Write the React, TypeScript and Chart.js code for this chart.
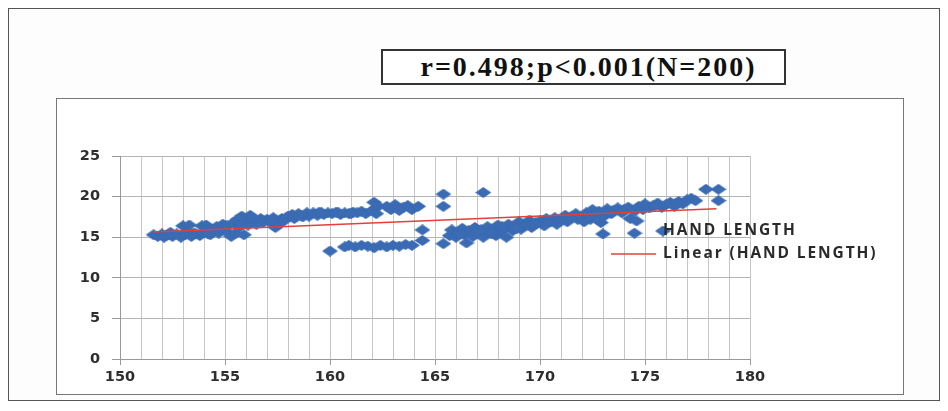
import React, { useEffect, useRef } from "react";
import { Chart, registerables } from "chart.js";

Chart.register(...registerables);

const titleText = "r=0.498;p<0.001(N=200)";
const seriesName = "HAND LENGTH";
const trendName = "Linear (HAND LENGTH)";

const heightCm = [
  151.6, 151.8, 152.0, 152.1, 152.3, 152.4, 152.5, 152.7, 152.9, 153.0, 153.1, 153.2, 153.3, 153.4, 153.6, 153.8, 153.9, 154.0, 154.1, 154.3, 154.4, 154.6, 154.7, 154.9, 155.0,
  155.1, 155.3, 155.4, 155.5, 155.6, 155.7, 155.8, 155.9, 156.0, 156.1, 156.2, 156.4, 156.5, 156.7, 156.8, 157.0, 157.1, 157.3, 157.4, 157.5, 157.7, 157.8, 158.0, 158.2, 158.3, 158.5, 158.7, 158.9, 159.0, 159.2, 159.4, 159.5, 159.7, 159.9, 160.1, 160.3, 160.5, 160.7, 160.9, 161.1, 161.3, 161.5, 161.7, 162.0, 162.1, 162.2, 162.3,
  162.7, 162.9, 163.1, 163.3, 163.5, 163.7, 163.9, 164.2,
  160.0, 160.7, 160.9, 161.2, 161.5, 161.8, 162.1, 162.4, 162.7, 163.0, 163.3, 163.6, 163.9, 164.4, 164.4,
  165.4, 165.4, 167.3, 165.4, 166.5,
  165.7, 165.8, 166.0, 166.1, 166.3, 166.4, 166.6, 166.8, 166.9, 167.0, 167.2, 167.3, 167.5, 167.6, 167.8, 167.9, 168.0, 168.1, 168.3, 168.4, 168.5, 168.7, 168.8, 169.0, 169.1, 169.3, 169.5, 169.6, 169.8, 170.0, 170.2, 170.3, 170.5, 170.7, 170.8, 171.0, 171.2, 171.3, 171.5, 171.7, 171.8,
  172.0, 172.1, 172.2, 172.4, 172.5, 172.6, 172.8, 172.9, 173.0, 173.0, 173.2, 173.4, 173.5, 173.7, 173.9, 174.0, 174.2, 174.3, 174.5, 174.5, 174.6, 174.7, 174.9, 175.0, 175.2, 175.4, 175.6, 175.8, 176.0, 176.2, 176.4, 176.6, 176.8, 177.0, 177.2, 177.4, 177.9, 178.5, 178.5,
  152.2, 153.5, 154.2, 156.3, 157.2, 158.6, 159.6, 160.4, 161.0, 166.2, 167.1, 167.7, 168.2, 168.9, 169.7, 170.4, 171.4, 173.3, 175.5, 176.5,
];

const handLength = [
  15.3, 15.1, 15.4, 15.0, 15.3, 15.6, 15.1, 15.4, 15.0, 16.4, 15.3, 15.7, 16.5, 15.1, 15.4, 15.2, 16.4, 15.6, 16.5, 15.3, 16.0, 16.3, 15.5, 16.6, 15.8,
  16.4, 15.1, 16.8, 15.5, 17.2, 16.3, 17.6, 15.3, 17.0, 16.5, 17.7, 17.1, 16.6, 17.3, 16.8, 17.2, 16.9, 17.4, 16.2, 16.6, 17.3, 17.0, 17.6, 17.8, 17.3, 17.9, 17.5, 18.0, 17.6, 18.0, 17.7, 18.1, 17.8, 18.0, 17.9, 18.1, 17.8, 18.0, 17.9, 18.1, 18.0, 18.2, 17.9, 18.3, 19.3, 17.9, 18.8,
  18.8, 18.4, 19.0, 18.3, 18.7, 18.9, 18.4, 18.8,
  13.3, 13.8, 14.0, 13.8, 14.0, 13.9, 13.7, 14.0, 13.8, 14.0, 13.9, 14.1, 14.0, 15.9, 14.6,
  20.3, 18.8, 20.5, 14.2, 14.3,
  15.2, 15.9, 15.0, 15.6, 16.1, 15.3, 15.8, 15.1, 16.2, 15.5, 15.9, 15.0, 16.3, 15.6, 16.0, 15.2, 16.5, 15.7, 16.1, 15.0, 16.6, 15.8, 16.3, 16.9, 16.0, 16.5, 17.1, 16.2, 16.8, 17.0, 16.4, 17.3, 16.9, 17.4, 16.6, 17.2, 17.7, 16.9, 17.5, 17.9, 17.2,
  17.4, 16.9, 18.0, 17.2, 18.4, 17.6, 18.2, 16.8, 17.5, 15.4, 18.5, 17.9, 18.3, 18.6, 18.0, 18.4, 18.7, 17.3, 15.5, 18.2, 17.0, 18.8, 18.4, 19.1, 18.6, 18.9, 19.2, 18.7, 19.0, 19.3, 18.8, 19.4, 19.1, 19.6, 19.8, 19.5, 20.9, 20.9, 19.5,
  15.2, 15.5, 15.4, 17.4, 17.0, 17.7, 18.0, 18.0, 17.9, 15.4, 15.8, 15.4, 16.3, 16.1, 16.6, 17.1, 17.3, 18.1, 18.9, 19.2,
];

const trendX = [151.6, 178.4];
const trendY = [15.65, 18.5];

const xMin = 150;
const xMax = 180;
const yMin = 0;
const yMax = 25;

const BLUE = "#3a6bb3";
const RED = "#e2403a";

function makeDiamond(w: number, h: number, color: string) {
  const c = document.createElement("canvas");
  c.width = w;
  c.height = h;
  const ctx = c.getContext("2d")!;
  ctx.fillStyle = color;
  ctx.beginPath();
  ctx.moveTo(w / 2, 0);
  ctx.lineTo(w, h / 2);
  ctx.lineTo(w / 2, h);
  ctx.lineTo(0, h / 2);
  ctx.closePath();
  ctx.fill();
  return c;
}

export default function App() {
  const canvasRef = useRef<HTMLCanvasElement | null>(null);

  useEffect(() => {
    const canvas = canvasRef.current;
    if (!canvas) return;

    const marker = makeDiamond(16, 11, BLUE);

    const legendPlugin = {
      id: "customLegend",
      afterDraw(chart: any) {
        const ctx = chart.ctx;
        ctx.save();
        const my = 132;
        ctx.drawImage(marker, 598, my - 5.5);
        ctx.font = "700 15.5px 'Open Sans'";
        (ctx as any).letterSpacing = "1.9px";
        ctx.fillStyle = "#2a2a2a";
        ctx.textBaseline = "middle";
        ctx.textAlign = "left";
        ctx.fillText(seriesName, 606, my);
        const ly = 155;
        ctx.strokeStyle = RED;
        ctx.lineWidth = 1.5;
        ctx.beginPath();
        ctx.moveTo(554, ly);
        ctx.lineTo(599, ly);
        ctx.stroke();
        ctx.fillText(trendName, 606, ly);
        ctx.restore();
      },
    };

    const chart = new Chart(canvas, {
      type: "scatter",
      data: {
        datasets: [
          {
            label: trendName,
            type: "line",
            data: trendX.map((x, i) => ({ x, y: trendY[i] })),
            borderColor: RED,
            borderWidth: 1.5,
            pointRadius: 0,
            showLine: true,
            fill: false,
            order: 0,
          } as any,
          {
            label: seriesName,
            data: heightCm.map((x, i) => ({ x, y: handLength[i] })),
            backgroundColor: BLUE,
            borderColor: BLUE,
            borderWidth: 0,
            pointStyle: marker,
            pointRadius: 7,
            order: 1,
          },
        ],
      },
      options: {
        animation: false,
        responsive: false,
        maintainAspectRatio: false,
        layout: { padding: { top: 57, left: 0, right: 153, bottom: 0 } },
        plugins: {
          legend: { display: false },
          tooltip: { enabled: false },
        },
        scales: {
          x: {
            type: "linear",
            min: xMin,
            max: xMax,
            afterFit: (s: any) => {
              s.height = 35;
            },
            ticks: {
              stepSize: 1,
              autoSkip: false,
              maxRotation: 0,
              padding: 4,
              color: "#2e2e2e",
              font: { family: "'DejaVu Sans'", size: 14.5, weight: "bold" },
              callback: (v: any) => (Number(v) % 5 === 0 ? String(v) : ""),
            },
            grid: {
              color: "#c6c6c6",
              lineWidth: 1,
              tickLength: 6,
              tickColor: (c: any) => (c.tick && c.tick.value % 5 === 0 ? "#999" : "rgba(0,0,0,0)"),
            },
            border: { color: "#999", width: 1 },
          },
          y: {
            min: yMin,
            max: yMax,
            afterFit: (s: any) => {
              s.width = 63;
            },
            ticks: {
              stepSize: 5,
              padding: 12,
              color: "#2e2e2e",
              font: { family: "'DejaVu Sans'", size: 14.5, weight: "bold" },
            },
            grid: {
              color: "#b4b4b4",
              lineWidth: 1,
              tickLength: 8,
              tickColor: "#999",
            },
            border: { color: "#999", width: 1 },
          },
        },
      },
      plugins: [legendPlugin],
    });

    return () => {
      chart.destroy();
    };
  }, []);

  return (
    <div
      style={{
        position: "relative",
        width: 932,
        height: 393,
        boxSizing: "border-box",
        border: "1px solid #555",
        background: "#fdfdfd",
      }}
    >
      <div
        style={{
          position: "absolute",
          left: 372,
          top: 40,
          width: 405,
          height: 36,
          boxSizing: "border-box",
          border: "2px solid #333",
          display: "flex",
          alignItems: "center",
          justifyContent: "center",
          fontFamily: "'Liberation Serif', serif",
          fontWeight: "bold",
          fontSize: 28,
          letterSpacing: 2,
          color: "#111",
          paddingLeft: 10,
          background: "#fff",
        }}
      >
        {titleText}
      </div>
      <div
        style={{
          position: "absolute",
          left: 47,
          top: 89,
          width: 848,
          height: 297,
          boxSizing: "border-box",
          border: "1px solid #777",
          background: "#fff",
        }}
      >
        <canvas ref={canvasRef} width={846} height={295} style={{ display: "block", width: 846, height: 295 }} />
      </div>
    </div>
  );
}
